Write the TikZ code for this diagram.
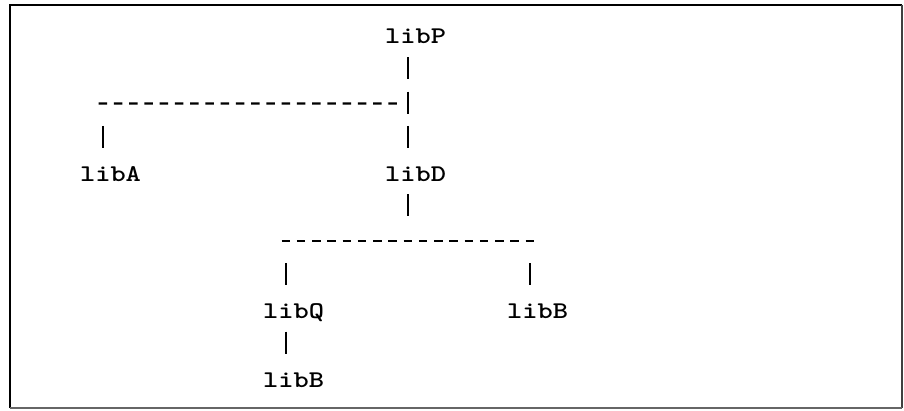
\documentclass[tikz,border=0pt]{standalone}
\usepackage{graphicx}
% typewriter letters, slightly widened
\newcommand{\ttwide}[1]{\scalebox{1.21}[1]{#1}}
\begin{document}
\begin{tikzpicture}[x=1pt,y=1pt,
  lib/.style={font=\fontsize{24}{24}\selectfont\ttfamily\bfseries, inner sep=0pt, anchor=base},
  trunk/.style={line width=2.4pt, dash pattern=on 22pt off 12.3pt},
  stub/.style={line width=2.4pt},
  fork/.style={line width=2.2pt, dash pattern=on 8.5pt off 6.75pt}]
\useasboundingbox (0,0) rectangle (904,-411);
\fill[white] (0,0) rectangle (904,-411);

% frame
\draw[line width=2.6pt] (10,-408) -- (10,-5) -- (902,-5);
\draw[line width=2pt, black!75] (902,-5) -- (902,-408);
\draw[line width=1.6pt, black!60] (10,-408) -- (902,-408);

% libraries
\node[lib] (libP)  at (415.5,-44)    {\ttwide{libP}};
\node[lib] (libA)  at (110.5,-181.2) {\ttwide{libA}};
\node[lib] (libD)  at (415.5,-181.2) {\ttwide{libD}};
\node[lib] (libQ)  at (293.5,-318.4) {\ttwide{libQ}};
\node[lib] (libB1) at (537.5,-318.4) {\ttwide{libB}};
\node[lib] (libB2) at (293.5,-387)   {\ttwide{libB}};

% libP -> libD, passing the first fork
\draw[trunk] ([shift={(-7.65,-13.3)}]libP.base) -- ([shift={(-7.65,33.3)}]libD.base);
% first fork, running left to libA
\draw[fork] ([shift={(-11.9,77.6)}]libA.base) -- ([shift={(-18.65,-59.6)}]libP.base);
\draw[stub] ([shift={(-7.65,55.3)}]libA.base) -- ([shift={(-7.65,33.3)}]libA.base);

% libD -> second fork
\draw[stub] ([shift={(-7.65,-13.3)}]libD.base) -- ([shift={(-7.65,-35.3)}]libD.base);
\draw[fork] ([shift={(-11.9,77.6)}]libQ.base) -- ([shift={(-3.4,77.6)}]libB1.base);
\draw[stub] ([shift={(-7.65,55.3)}]libQ.base) -- ([shift={(-7.65,33.3)}]libQ.base);
\draw[stub] ([shift={(-7.65,55.3)}]libB1.base) -- ([shift={(-7.65,33.3)}]libB1.base);

% libQ -> libB
\draw[stub] ([shift={(-7.65,55.3)}]libB2.base) -- ([shift={(-7.65,33.3)}]libB2.base);
\end{tikzpicture}
\end{document}
